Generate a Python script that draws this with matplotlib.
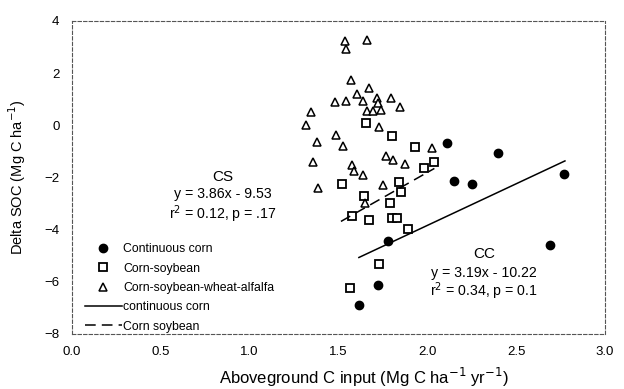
import numpy as np
import matplotlib
matplotlib.use("Agg")
from matplotlib import pyplot as plt

plt.rcParams['font.family'] = ['Liberation Sans', 'DejaVu Sans']

# continuous corn
cc_x = [2.11, 2.40, 2.77, 2.15, 2.25, 2.69, 1.78, 1.72, 1.615]
cc_y = [-0.68, -1.08, -1.85, -2.13, -2.27, -4.59, -4.45, -6.13, -6.90]

# corn-soybean
cs_x = [1.655, 1.80, 1.93, 1.98, 2.04, 1.52, 1.84, 1.85, 1.645, 1.79,
        1.575, 1.67, 1.80, 1.83, 1.89, 1.73, 1.565]
cs_y = [0.09, -0.40, -0.83, -1.63, -1.42, -2.27, -2.16, -2.55, -2.71, -2.98,
        -3.46, -3.62, -3.55, -3.55, -3.96, -5.30, -6.25]

# corn-soybean-wheat-alfalfa
csw_x = [1.536, 1.542, 1.658, 1.570, 1.671, 1.602, 1.48, 1.542, 1.639, 1.718,
         1.793, 1.724, 1.658, 1.696, 1.739, 1.846, 1.343, 1.317, 1.728, 1.486,
         1.380, 1.523, 2.024, 1.767, 1.805, 1.358, 1.574, 1.589, 1.639, 1.874,
         1.386, 1.752, 1.649]
csw_y = [3.22, 2.91, 3.26, 1.74, 1.43, 1.21, 0.90, 0.93, 0.94, 1.03,
         1.03, 0.84, 0.55, 0.53, 0.59, 0.68, 0.49, -0.01, -0.08, -0.39,
         -0.64, -0.79, -0.89, -1.17, -1.35, -1.42, -1.54, -1.76, -1.92, -1.48,
         -2.42, -2.29, -2.97]

# regression fits (slope, intercept, x range)
cc_fit = (3.19, -10.22, 1.615, 2.775)
cs_fit = (3.86, -9.53, 1.514, 2.04)

fig = plt.figure(figsize=(6.24, 3.89), dpi=100)
ax = fig.add_axes([0.1154, 0.1414, 0.854, 0.805])

ax.plot(cc_x, cc_y, 'o', color='black', markersize=6, label='Continuous corn')
ax.plot(cs_x, cs_y, 's', mfc='white', mec='black', mew=1.3, markersize=5.5,
        label='Corn-soybean')
ax.plot(csw_x, csw_y, '^', mfc='white', mec='black', mew=1.1, markersize=6,
        label='Corn-soybean-wheat-alfalfa')

xx = np.array(cc_fit[2:])
ax.plot(xx, cc_fit[0] * xx + cc_fit[1], '-', color='black', lw=1.1,
        label='continuous corn')
xx = np.array(cs_fit[2:])
ax.plot(xx, cs_fit[0] * xx + cs_fit[1], '--', color='black', lw=1.1,
        dashes=(7, 4), label='Corn soybean')

ax.text(0.85, -2.0, 'CS', ha='center', va='center', fontsize=11)
ax.text(0.85, -2.62, 'y = 3.86x - 9.53', ha='center', va='center', fontsize=10.2)
ax.text(0.85, -3.4, 'r$^2$ = 0.12, p = .17', ha='center', va='center', fontsize=10.2)
ax.text(2.32, -4.95, 'CC', ha='center', va='center', fontsize=11)
ax.text(2.32, -5.67, 'y = 3.19x - 10.22', ha='center', va='center', fontsize=10.2)
ax.text(2.32, -6.35, 'r$^2$ = 0.34, p = 0.1', ha='center', va='center', fontsize=10.2)

ax.set_xlim(0, 3)
ax.set_ylim(-8, 4)
ax.set_xticks(np.arange(0, 3.01, 0.5))
ax.set_xticklabels(['0.0', '0.5', '1.0', '1.5', '2.0', '2.5', '3.0'])
ax.set_yticks([4, 2, 0, -2, -4, -6, -8])
ax.tick_params(length=0, labelsize=9.5, pad=9)

for s in ax.spines.values():
    s.set_linestyle((0, (3, 2)))
    s.set_color('#555555')
    s.set_linewidth(0.8)

ax.set_xlabel('Aboveground C input (Mg C ha$^{-1}$ yr$^{-1}$)', fontsize=12, va='center')
ax.xaxis.set_label_coords(0.548, -0.138)
ax.set_ylabel('Delta SOC (Mg C ha$^{-1}$)', fontsize=10.5, labelpad=12)

ax.legend(loc='lower left', bbox_to_anchor=(0.022, 0.0), frameon=False,
          fontsize=8.8, handlelength=3.0, handletextpad=0.15, labelspacing=0.6,
          borderpad=0, borderaxespad=0.1)

fig.savefig('out.png', dpi=100)
